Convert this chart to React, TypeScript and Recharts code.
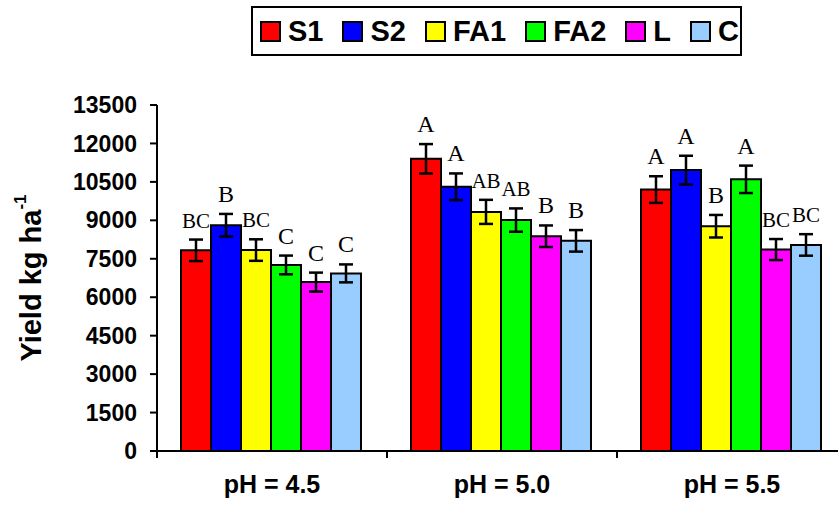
import React from "react";
import { BarChart, Bar, XAxis, YAxis, ErrorBar, LabelList } from "recharts";

// pH levels on the x axis
const groups = ["pH = 4.5", "pH = 5.0", "pH = 5.5"];

// mean yield (kg/ha) per treatment
const s1 = [7830, 11400, 10200];
const s2 = [8810, 10310, 10960];
const fa1 = [7840, 9330, 8770];
const fa2 = [7260, 9010, 10600];
const lime = [6590, 8380, 7860];
const ctrl = [6930, 8200, 8040];

// standard errors
const s1Err = [420, 575, 520];
const s2Err = [440, 520, 560];
const fa1Err = [420, 470, 440];
const fa2Err = [365, 455, 535];
const limeErr = [370, 420, 410];
const ctrlErr = [350, 420, 420];

// significance letters
const s1Sig = ["BC", "A", "A"];
const s2Sig = ["B", "A", "A"];
const fa1Sig = ["BC", "AB", "B"];
const fa2Sig = ["C", "AB", "A"];
const limeSig = ["C", "B", "BC"];
const ctrlSig = ["C", "B", "BC"];

const yTicks = [0, 1500, 3000, 4500, 6000, 7500, 9000, 10500, 12000, 13500];

const series = [
  { key: "S1", color: "#FF0000", values: s1, err: s1Err, sig: s1Sig },
  { key: "S2", color: "#0000FF", values: s2, err: s2Err, sig: s2Sig },
  { key: "FA1", color: "#FFFF00", values: fa1, err: fa1Err, sig: fa1Sig },
  { key: "FA2", color: "#00FF00", values: fa2, err: fa2Err, sig: fa2Sig },
  { key: "L", color: "#FF00FF", values: lime, err: limeErr, sig: limeSig },
  { key: "C", color: "#99CCFF", values: ctrl, err: ctrlErr, sig: ctrlSig },
];

const data = groups.map((name, i) => {
  const row: Record<string, any> = { name };
  series.forEach((s) => {
    row[s.key] = s.values[i];
    row[s.key + "_err"] = s.err[i];
  });
  return row;
});

const W = 860;
const H = 506;
const M = { top: 105, right: 13, bottom: 0, left: 0 };
const Y_W = 157;
const X_H = 55;
const Y_MAX = 13500;
const PLOT_H = H - M.top - M.bottom - X_H;
const BAND = (W - M.left - M.right - Y_W) / groups.length;

const SANS = "'Liberation Sans', Arial, sans-serif";
const SERIF = "'Liberation Serif', 'Times New Roman', serif";

function GroupTick(props: any) {
  const { x, y, payload, index } = props;
  const half = BAND / 2;
  return (
    <g>
      <line x1={x - half} x2={x - half} y1={y} y2={y + 7} stroke="#000" strokeWidth={2} />
      {index === groups.length - 1 && (
        <line x1={x + half} x2={x + half} y1={y} y2={y + 7} stroke="#000" strokeWidth={2} />
      )}
      <text x={x} y={y + 42} textAnchor="middle" fontFamily={SANS} fontWeight="bold" fontSize={25} fill="#000">
        {payload.value}
      </text>
    </g>
  );
}

function YTitle(props: any) {
  const vb = props.viewBox || { x: 0, y: M.top, height: PLOT_H };
  const cx = 31;
  const cy = vb.y + vb.height / 2;
  return (
    <text
      x={cx}
      y={cy}
      transform={`rotate(-90, ${cx}, ${cy})`}
      textAnchor="middle"
      dominantBaseline="central"
      fontFamily={SANS}
      fontWeight="bold"
      fontSize={29}
      fill="#000"
    >
      Yield kg ha
      <tspan dy={-11} fontSize={17}>-1</tspan>
    </text>
  );
}

const sigLabel = (s: (typeof series)[number]) => (p: any) => {
  const { x, y, width, index } = p;
  const letter = s.sig[index];
  const errPx = (s.err[index] * PLOT_H) / Y_MAX;
  return (
    <text
      x={x + width / 2}
      y={y - errPx - 12}
      textAnchor="middle"
      fontFamily={SERIF}
      fontSize={letter.length > 1 ? 21 : 24}
      fill="#000"
    >
      {letter}
    </text>
  );
};

function LegendBox() {
  return (
    <div
      style={{
        position: "absolute",
        left: 251,
        top: 6,
        width: 491,
        height: 50,
        border: "2px solid #000",
        boxSizing: "border-box",
        display: "flex",
        alignItems: "center",
        paddingLeft: 7,
        fontFamily: SANS,
        fontWeight: "bold",
        fontSize: 29,
        color: "#000",
        background: "#fff",
      }}
    >
      {series.map((s) => (
        <div key={s.key} style={{ display: "flex", alignItems: "center", marginRight: 19 }}>
          <span
            style={{
              width: 21,
              height: 21,
              background: s.color,
              border: "2px solid #000",
              boxSizing: "border-box",
              marginRight: 7,
              display: "inline-block",
            }}
          />
          <span>{s.key}</span>
        </div>
      ))}
    </div>
  );
}

export default function App() {
  return (
    <div
      style={{
        position: "absolute",
        left: 0,
        top: 0,
        width: 838,
        height: 506,
        overflow: "hidden",
        background: "#fff",
      }}
    >
      <BarChart width={W} height={H} data={data} margin={M} barCategoryGap={24} barGap={0}>
        <XAxis
          dataKey="name"
          height={X_H}
          axisLine={{ stroke: "#000", strokeWidth: 2 }}
          tickLine={false}
          tickSize={0}
          tickMargin={0}
          tick={<GroupTick />}
          interval={0}
        />
        <YAxis
          width={Y_W}
          domain={[0, Y_MAX]}
          ticks={yTicks}
          interval={0}
          axisLine={{ stroke: "#000", strokeWidth: 2 }}
          tickLine={{ stroke: "#000", strokeWidth: 2 }}
          tickSize={7}
          tickMargin={13}
          tick={{ fill: "#000", fontFamily: SANS, fontWeight: "bold", fontSize: 23 }}
          label={<YTitle />}
        />
        {series.map((s) => (
          <Bar
            key={s.key}
            dataKey={s.key}
            fill={s.color}
            stroke="#000"
            strokeWidth={2}
            isAnimationActive={false}
          >
            <ErrorBar dataKey={s.key + "_err"} width={7} stroke="#000" strokeWidth={2.5} />
            <LabelList dataKey={s.key} content={sigLabel(s)} />
          </Bar>
        ))}
      </BarChart>
      <LegendBox />
    </div>
  );
}
